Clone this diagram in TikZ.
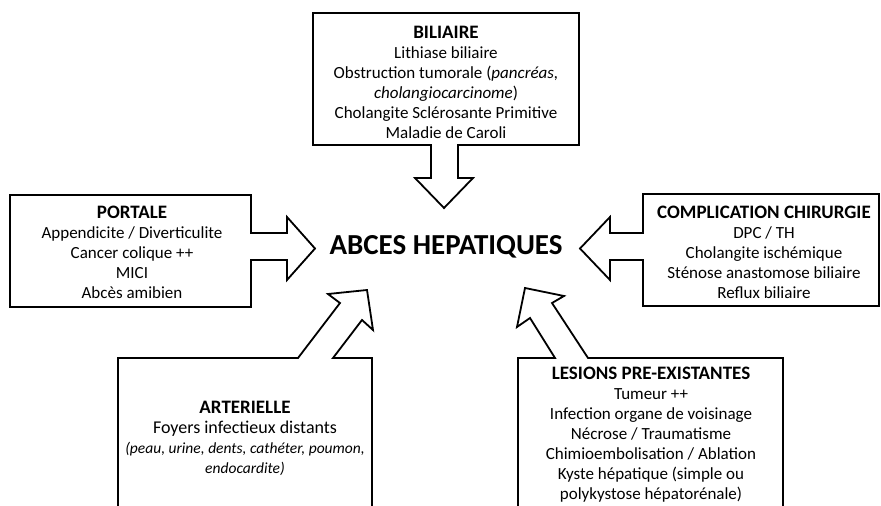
\documentclass[tikz,border=0pt]{standalone}
\usepackage{fontspec}
\setmainfont{Carlito}
\newcommand{\boxhead}[1]{{\fontsize{19}{20}\selectfont\bfseries #1}}
\begin{document}
\begin{tikzpicture}[x=1pt,y=-1pt,
  outline/.style={draw=black, line width=1.8pt, line join=miter, fill=white},
  body/.style={font=\fontsize{17}{20}\selectfont, align=center, inner sep=0pt},
  titletext/.style={font=\fontsize{29}{33}\selectfont\bfseries, inner sep=0pt}]
\useasboundingbox (0,0) rectangle (881,506);
\clip (0,0) rectangle (881,506);

% BILIAIRE box with downward arrow
\draw[outline] (313,13) -- (579,13) -- (579,145) -- (458,145) -- (458,178) -- (473,178)
  -- (444,208) -- (415,178) -- (431,178) -- (431,145) -- (313,145) -- cycle;
% PORTALE box with right arrow
\draw[outline] (10,195) -- (251,195) -- (251,233) -- (287,233) -- (287,217) -- (315,248.5)
  -- (287,280) -- (287,260) -- (251,260) -- (251,307) -- (10,307) -- cycle;
% COMPLICATION box with left arrow
\draw[outline] (643,194) -- (879,194) -- (879,306) -- (643,306) -- (643,260) -- (610,260)
  -- (610,280) -- (580,248.5) -- (610,217) -- (610,233) -- (643,233) -- cycle;
% ARTERIELLE box with diagonal arrow
\draw[outline] (118,515) -- (118,358) -- (298,358) -- (340,303) -- (328,294) -- (367,290)
  -- (373,330) -- (362,320) -- (333,358) -- (372,358) -- (372,515) -- cycle;
% LESIONS box with diagonal arrow
\draw[outline] (518,515) -- (518,358) -- (555,358) -- (530,318) -- (517,327) -- (525,288)
  -- (564,296) -- (552,303) -- (588,358) -- (783,358) -- (783,515) -- cycle;

\node[titletext] (abces) at (446,247) {ABCES HEPATIQUES};

\node[body] (biliaire) at (446,82) {\boxhead{BILIAIRE}\\ Lithiase biliaire\\
  Obstruction tumorale (\textit{pancréas,}\\ \textit{cholangiocarcinome})\\
  Cholangite Sclérosante Primitive\\ Maladie de Caroli};
\node[body] (portale) at (132,252) {\boxhead{PORTALE}\\ Appendicite / Diverticulite\\
  Cancer colique ++\\ MICI\\ Abcès amibien};
\node[body] (chir) at (764,252) {\boxhead{COMPLICATION CHIRURGIE}\\ DPC / TH\\
  Cholangite ischémique\\ Sténose anastomose biliaire\\ Reflux biliaire};
\node[body] (arter) at (245,438) {\boxhead{ARTERIELLE}\\ {\fontsize{18}{20}\selectfont Foyers infectieux distants}\\
  {\fontsize{15.5}{20}\selectfont\itshape (peau, urine, dents, cathéter, poumon,}\\
  {\fontsize{15.5}{20}\selectfont\itshape endocardite)}};
\node[body] (lesions) at (651,435) {\boxhead{LESIONS PRE-EXISTANTES}\\ Tumeur ++\\
  Infection organe de voisinage\\ Nécrose / Traumatisme\\ Chimioembolisation / Ablation\\
  Kyste hépatique (simple ou\\ polykystose hépatorénale)};
\end{tikzpicture}
\end{document}
